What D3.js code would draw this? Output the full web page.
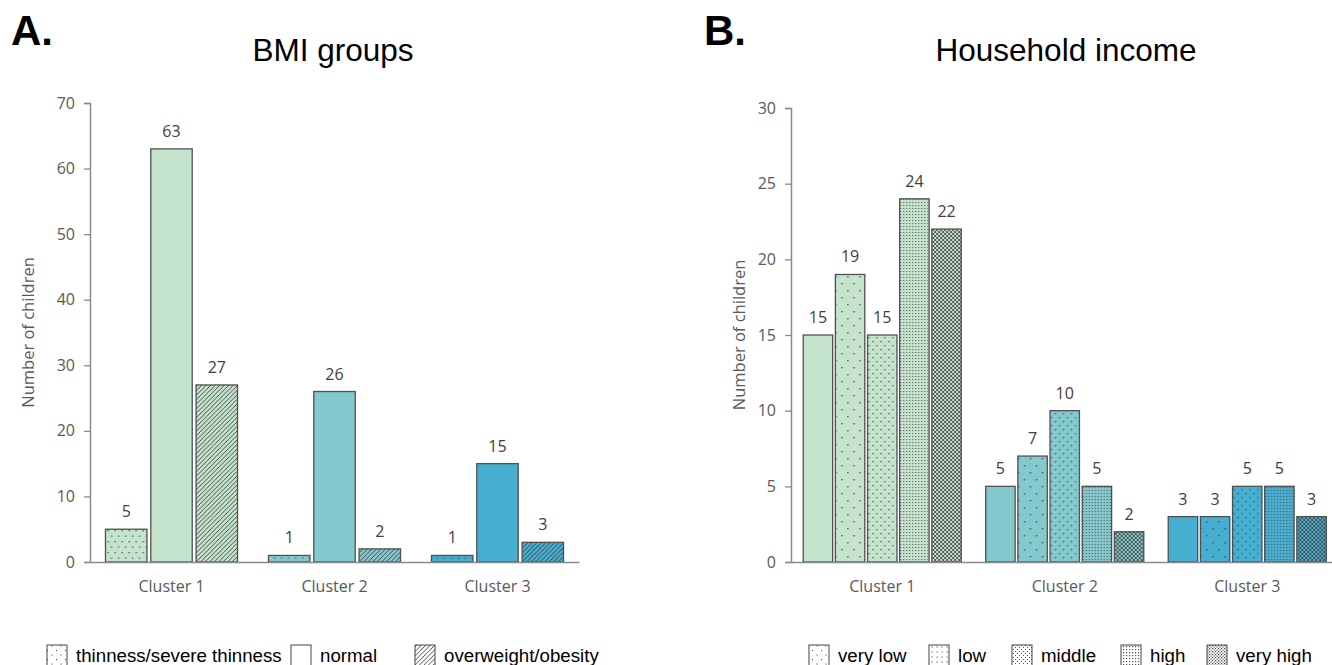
<!DOCTYPE html>
<html>
<head>
<meta charset="utf-8">
<script src="https://cdn.jsdelivr.net/npm/d3@7"></script>
<style>
  html, body { margin: 0; padding: 0; background: #fff; }
  svg { display: block; }
</style>
</head>
<body>
<svg id="chart" width="1332" height="665"></svg>
<script>
// ---------------- DATA ----------------
const clusters = ["Cluster 1", "Cluster 2", "Cluster 3"];

const bmiGroups = ["thinness/severe thinness", "normal", "overweight/obesity"];
const bmiThinness = [5, 1, 1];
const bmiNormal = [63, 26, 15];
const bmiOverweight = [27, 2, 3];
const bmiTicks = [0, 10, 20, 30, 40, 50, 60, 70];

const incomeGroups = ["very low", "low", "middle", "high", "very high"];
const incVeryLow = [15, 5, 3];
const incLow = [19, 7, 3];
const incMiddle = [15, 10, 5];
const incHigh = [24, 5, 5];
const incVeryHigh = [22, 2, 3];
const incTicks = [0, 5, 10, 15, 20, 25, 30];

const clusterColors = ["#c5e4cd", "#83c9cd", "#45aed1"];

// ---------------- SETUP ----------------
const svg = d3.select("#chart");
const defs = svg.append("defs");
const ink = "#505050";

function pat(id, w, h, draw) {
  const p = defs.append("pattern").attr("id", id)
    .attr("patternUnits", "userSpaceOnUse").attr("width", w).attr("height", h);
  draw(p);
}
function dot(p, x, y, s, c) {
  p.append("rect").attr("x", x).attr("y", y).attr("width", s).attr("height", s).attr("fill", c || ink);
}
// sparse dots (thinness)
pat("pSparseA", 7, 11, p => { dot(p, 2, 2, 1.3); dot(p, 5.5, 7.5, 1.3); });
// diagonal stripes
pat("pDiag", 4.5, 4.5, p => {
  p.append("path").attr("d", "M-1,1 l2,-2 M0,4.5 l4.5,-4.5 M3.5,5.5 l2,-2")
    .attr("stroke", "#3a3a3a").attr("stroke-width", 0.9);
});
// income patterns
pat("pDots1", 12, 14, p => { dot(p, 2, 3, 1.4); dot(p, 8, 10, 1.4); });
pat("pDots2", 8, 8, p => { dot(p, 1, 1, 1.3); dot(p, 5, 5, 1.3); });
pat("pDots3", 3, 3, p => { dot(p, 1, 1, 1.1, "#5a5a5a"); });
pat("pDiamond", 4, 4, p => {
  p.append("path").attr("d", "M0,0 L4,4 M4,0 L0,4")
    .attr("stroke", "#4a4a4a").attr("stroke-width", 0.9);
});
// legend-only patterns
pat("pLegSparse", 9, 9, p => { dot(p, 2, 2, 1.1); dot(p, 6.5, 6.5, 1.1); });
pat("pLegCols", 5, 5, p => { dot(p, 1.5, 1.5, 1.1); });
pat("pLegFine", 4, 4, p => { dot(p, 1, 1, 1.0); dot(p, 3, 3, 1.0); });
pat("pLegFiner", 3, 3, p => { dot(p, 1, 1, 1.2, "#555"); });
pat("pLegCheck", 3, 3, p => { dot(p, 0, 0, 1.2, "#444"); dot(p, 1.5, 1.5, 1.2, "#555"); });

const tickFont = "'Open Sans', 'Noto Sans', sans-serif";

function panel(opts) {
  const g = svg.append("g");
  const x0 = d3.scaleBand().domain(clusters).range(opts.xRange)
    .paddingInner(opts.outerPadInner).paddingOuter(opts.outerPadOuter);
  const x1 = d3.scaleBand().domain(opts.series.map((s, i) => i))
    .range([0, x0.bandwidth()]).paddingInner(0.085).paddingOuter(0);
  const y = d3.scaleLinear().domain([0, opts.ticks[opts.ticks.length - 1]]).range(opts.yRange);

  // y axis
  const yAxis = d3.axisLeft(y).tickValues(opts.ticks).tickSize(6).tickPadding(9).tickFormat(d3.format("d"));
  const ya = g.append("g").attr("transform", `translate(${opts.xRange[0]},0)`).call(yAxis);
  ya.select(".domain").attr("stroke", "#8a8a8a").attr("stroke-width", 1.5);
  ya.selectAll(".tick line").attr("stroke", "#8a8a8a").attr("stroke-width", 1.3);
  ya.selectAll(".tick text").attr("fill", "#595959").style("font-family", tickFont).style("font-size", "16px");

  // bars
  clusters.forEach((c, ci) => {
    const cg = g.append("g").attr("transform", `translate(${x0(c)},0)`);
    opts.series.forEach((vals, si) => {
      const v = vals[ci];
      const bx = x1(si), bw = x1.bandwidth();
      const by = y(v), bh = y(0) - y(v);
      cg.append("rect").attr("x", bx).attr("y", by).attr("width", bw).attr("height", bh)
        .attr("fill", clusterColors[ci]);
      if (opts.patterns[si]) {
        cg.append("rect").attr("x", bx).attr("y", by).attr("width", bw).attr("height", bh)
          .attr("fill", `url(#${opts.patterns[si]})`);
      }
      cg.append("rect").attr("x", bx).attr("y", by).attr("width", bw).attr("height", bh)
        .attr("fill", "none").attr("stroke", ink).attr("stroke-width", 1.3);
      cg.append("text").attr("x", bx + bw / 2).attr("y", by - 12)
        .attr("text-anchor", "middle").attr("fill", "#404040")
        .style("font-family", tickFont).style("font-size", "16px").text(v);
    });
  });

  // x axis
  const xAxis = d3.axisBottom(x0).tickSize(0).tickPadding(19);
  const xa = g.append("g").attr("transform", `translate(0,${opts.yRange[0]})`).call(xAxis);
  xa.select(".domain").attr("stroke", "#8a8a8a").attr("stroke-width", 1.5);
  xa.selectAll(".tick text").attr("fill", "#595959").style("font-family", tickFont).style("font-size", "16px");

  // y title
  g.append("text")
    .attr("transform", `translate(${opts.yTitleX},${(opts.yRange[0] + opts.yRange[1]) / 2}) rotate(-90)`)
    .attr("text-anchor", "middle").attr("fill", "#595959")
    .style("font-family", tickFont).style("font-size", "16.5px").text("Number of children");

  // chart title
  g.append("text").attr("x", opts.titleX).attr("y", 61).attr("text-anchor", "middle")
    .attr("fill", "#000").style("font-family", "'Liberation Sans', Arial, sans-serif")
    .style("font-size", "31.5px").text(opts.title);

  // panel letter
  g.append("text").attr("x", opts.letterX).attr("y", 45)
    .attr("fill", "#000").style("font-family", "'Liberation Sans', Arial, sans-serif")
    .style("font-size", "42px").style("font-weight", "bold").text(opts.letter);

  // legend
  const lg = g.append("g");
  opts.legend.forEach((name, i) => {
    const lx = opts.legendX[i];
    lg.append("rect").attr("x", lx).attr("y", 645).attr("width", 20).attr("height", 24)
      .attr("fill", "#fff");
    if (opts.legendPatterns[i]) {
      lg.append("rect").attr("x", lx).attr("y", 645).attr("width", 20).attr("height", 24)
        .attr("fill", `url(#${opts.legendPatterns[i]})`);
    }
    lg.append("rect").attr("x", lx).attr("y", 645).attr("width", 20).attr("height", 24)
      .attr("fill", "none").attr("stroke", "#444").attr("stroke-width", 1);
    lg.append("text").attr("x", lx + 29).attr("y", 662).attr("fill", "#000")
      .style("font-family", "'Liberation Sans', Arial, sans-serif").style("font-size", "18.7px").text(name);
  });
}

panel({
  series: [bmiThinness, bmiNormal, bmiOverweight],
  patterns: ["pSparseA", null, "pDiag"],
  ticks: bmiTicks,
  xRange: [90, 579], yRange: [562, 103],
  outerPadInner: 0.19, outerPadOuter: 0.095,
  yTitleX: 34, title: "BMI groups", titleX: 333, letter: "A.", letterX: 11,
  legend: bmiGroups, legendX: [47, 291, 415],
  legendPatterns: ["pLegSparse", null, "pDiag"]
});

panel({
  series: [incVeryLow, incLow, incMiddle, incHigh, incVeryHigh],
  patterns: [null, "pDots1", "pDots2", "pDots3", "pDiamond"],
  ticks: incTicks,
  xRange: [791, 1338.5], yRange: [562, 108],
  outerPadInner: 0.134, outerPadOuter: 0.067,
  yTitleX: 745, title: "Household income", titleX: 1066, letter: "B.", letterX: 704,
  legend: incomeGroups, legendX: [809, 929, 1012, 1121, 1207],
  legendPatterns: ["pLegSparse", "pLegCols", "pLegFine", "pLegFiner", "pLegCheck"]
});
</script>
</body>
</html>
